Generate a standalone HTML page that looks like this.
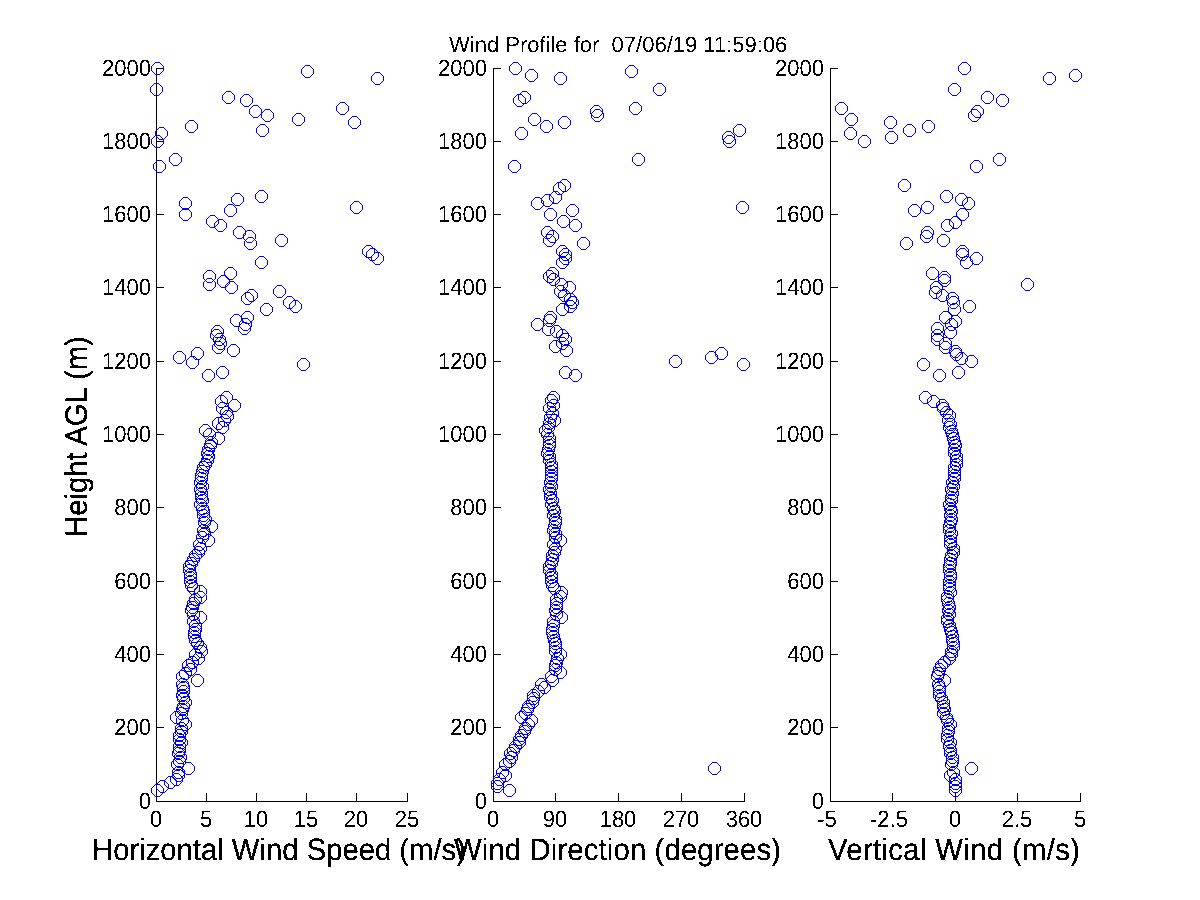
<!DOCTYPE html>
<html><head><meta charset="utf-8"><title>Wind Profile</title>
<style>
html,body{margin:0;padding:0;background:#fff;width:1200px;height:900px;overflow:hidden}
svg{display:block}
.t{font-family:'Liberation Sans', Arial, Helvetica, sans-serif;font-size:22px;fill:#000}
.l{font-family:'Liberation Sans', Arial, Helvetica, sans-serif;font-size:29.3px;fill:#000}
.ti{font-family:'Liberation Sans', Arial, Helvetica, sans-serif;font-size:22px;fill:#000;white-space:pre}
</style></head><body>
<svg width="1200" height="900" viewBox="0 0 1200 900" shape-rendering="crispEdges">
<rect width="1200" height="900" fill="#fff"/>
<path d="M156.5 68V801.5H408" fill="none" stroke="#000" stroke-width="1"/>
<path d="M157 727.5h7M157 654.5h7M157 581.5h7M157 507.5h7M157 434.5h7M157 361.5h7M157 287.5h7M157 214.5h7M157 141.5h7M157 68.5h7" stroke="#000" stroke-width="1"/>
<path d="M206.5 801V793M256.5 801V793M306.5 801V793M356.5 801V793M407.5 801V793" stroke="#000" stroke-width="1"/>
<path d="M493.5 68V801.5H745" fill="none" stroke="#000" stroke-width="1"/>
<path d="M494 727.5h7M494 654.5h7M494 581.5h7M494 507.5h7M494 434.5h7M494 361.5h7M494 287.5h7M494 214.5h7M494 141.5h7M494 68.5h7" stroke="#000" stroke-width="1"/>
<path d="M555.5 801V793M618.5 801V793M681.5 801V793M744.5 801V793" stroke="#000" stroke-width="1"/>
<path d="M830.5 68V801.5H1081" fill="none" stroke="#000" stroke-width="1"/>
<path d="M831 727.5h7M831 654.5h7M831 581.5h7M831 507.5h7M831 434.5h7M831 361.5h7M831 287.5h7M831 214.5h7M831 141.5h7M831 68.5h7" stroke="#000" stroke-width="1"/>
<path d="M892.5 801V793M955.5 801V793M1017.5 801V793M1080.5 801V793" stroke="#000" stroke-width="1"/>
<path d="M155.5 62.5h4l4 4v4l-4 4h-4l-4-4v-4zM305.5 65.5h4l4 4v4l-4 4h-4l-4-4v-4zM375.5 72.5h4l4 4v4l-4 4h-4l-4-4v-4zM154.5 83.5h4l4 4v4l-4 4h-4l-4-4v-4zM226.5 91.5h4l4 4v4l-4 4h-4l-4-4v-4zM244.5 94.5h4l4 4v4l-4 4h-4l-4-4v-4zM340.5 102.5h4l4 4v4l-4 4h-4l-4-4v-4zM253.5 105.5h4l4 4v4l-4 4h-4l-4-4v-4zM265.5 109.5h4l4 4v4l-4 4h-4l-4-4v-4zM296.5 113.5h4l4 4v4l-4 4h-4l-4-4v-4zM352.5 116.5h4l4 4v4l-4 4h-4l-4-4v-4zM189.5 120.5h4l4 4v4l-4 4h-4l-4-4v-4zM260.5 124.5h4l4 4v4l-4 4h-4l-4-4v-4zM159.5 127.5h4l4 4v4l-4 4h-4l-4-4v-4zM155.5 135.5h4l4 4v4l-4 4h-4l-4-4v-4zM173.5 153.5h4l4 4v4l-4 4h-4l-4-4v-4zM157.5 160.5h4l4 4v4l-4 4h-4l-4-4v-4zM259.5 190.5h4l4 4v4l-4 4h-4l-4-4v-4zM235.5 193.5h4l4 4v4l-4 4h-4l-4-4v-4zM183.5 197.5h4l4 4v4l-4 4h-4l-4-4v-4zM354.5 201.5h4l4 4v4l-4 4h-4l-4-4v-4zM228.5 204.5h4l4 4v4l-4 4h-4l-4-4v-4zM183.5 208.5h4l4 4v4l-4 4h-4l-4-4v-4zM210.5 215.5h4l4 4v4l-4 4h-4l-4-4v-4zM218.5 219.5h4l4 4v4l-4 4h-4l-4-4v-4zM237.5 226.5h4l4 4v4l-4 4h-4l-4-4v-4zM247.5 230.5h4l4 4v4l-4 4h-4l-4-4v-4zM279.5 234.5h4l4 4v4l-4 4h-4l-4-4v-4zM248.5 237.5h4l4 4v4l-4 4h-4l-4-4v-4zM366.5 245.5h4l4 4v4l-4 4h-4l-4-4v-4zM370.5 248.5h4l4 4v4l-4 4h-4l-4-4v-4zM375.5 252.5h4l4 4v4l-4 4h-4l-4-4v-4zM259.5 256.5h4l4 4v4l-4 4h-4l-4-4v-4zM228.5 267.5h4l4 4v4l-4 4h-4l-4-4v-4zM207.5 270.5h4l4 4v4l-4 4h-4l-4-4v-4zM221.5 275.5h4l4 4v4l-4 4h-4l-4-4v-4zM207.5 278.5h4l4 4v4l-4 4h-4l-4-4v-4zM229.5 281.5h4l4 4v4l-4 4h-4l-4-4v-4zM277.5 285.5h4l4 4v4l-4 4h-4l-4-4v-4zM249.5 289.5h4l4 4v4l-4 4h-4l-4-4v-4zM245.5 292.5h4l4 4v4l-4 4h-4l-4-4v-4zM287.5 296.5h4l4 4v4l-4 4h-4l-4-4v-4zM293.5 300.5h4l4 4v4l-4 4h-4l-4-4v-4zM264.5 303.5h4l4 4v4l-4 4h-4l-4-4v-4zM245.5 311.5h4l4 4v4l-4 4h-4l-4-4v-4zM234.5 314.5h4l4 4v4l-4 4h-4l-4-4v-4zM243.5 318.5h4l4 4v4l-4 4h-4l-4-4v-4zM242.5 322.5h4l4 4v4l-4 4h-4l-4-4v-4zM215.5 325.5h4l4 4v4l-4 4h-4l-4-4v-4zM214.5 329.5h4l4 4v4l-4 4h-4l-4-4v-4zM217.5 333.5h4l4 4v4l-4 4h-4l-4-4v-4zM218.5 337.5h4l4 4v4l-4 4h-4l-4-4v-4zM216.5 341.5h4l4 4v4l-4 4h-4l-4-4v-4zM231.5 344.5h4l4 4v4l-4 4h-4l-4-4v-4zM195.5 347.5h4l4 4v4l-4 4h-4l-4-4v-4zM177.5 351.5h4l4 4v4l-4 4h-4l-4-4v-4zM190.5 356.5h4l4 4v4l-4 4h-4l-4-4v-4zM301.5 358.5h4l4 4v4l-4 4h-4l-4-4v-4zM220.5 366.5h4l4 4v4l-4 4h-4l-4-4v-4zM206.5 369.5h4l4 4v4l-4 4h-4l-4-4v-4zM224.5 391.5h4l4 4v4l-4 4h-4l-4-4v-4zM219.5 395.5h4l4 4v4l-4 4h-4l-4-4v-4zM232.5 399.5h4l4 4v4l-4 4h-4l-4-4v-4zM220.5 402.5h4l4 4v4l-4 4h-4l-4-4v-4zM224.5 406.5h4l4 4v4l-4 4h-4l-4-4v-4zM225.5 410.5h4l4 4v4l-4 4h-4l-4-4v-4zM222.5 414.5h4l4 4v4l-4 4h-4l-4-4v-4zM216.5 417.5h4l4 4v4l-4 4h-4l-4-4v-4zM220.5 421.5h4l4 4v4l-4 4h-4l-4-4v-4zM203.5 424.5h4l4 4v4l-4 4h-4l-4-4v-4zM207.5 428.5h4l4 4v4l-4 4h-4l-4-4v-4zM216.5 432.5h4l4 4v4l-4 4h-4l-4-4v-4zM155.5 784.5h4l4 4v4l-4 4h-4l-4-4v-4zM160.5 780.5h4l4 4v4l-4 4h-4l-4-4v-4zM168.5 776.5h4l4 4v4l-4 4h-4l-4-4v-4zM174.5 773.5h4l4 4v4l-4 4h-4l-4-4v-4zM176.5 769.5h4l4 4v4l-4 4h-4l-4-4v-4zM198.5 641.5h4l4 4v4l-4 4h-4l-4-4v-4zM199.5 645.5h4l4 4v4l-4 4h-4l-4-4v-4zM193.5 648.5h4l4 4v4l-4 4h-4l-4-4v-4zM196.5 652.5h4l4 4v4l-4 4h-4l-4-4v-4zM190.5 656.5h4l4 4v4l-4 4h-4l-4-4v-4zM186.5 659.5h4l4 4v4l-4 4h-4l-4-4v-4zM188.5 663.5h4l4 4v4l-4 4h-4l-4-4v-4zM183.5 667.5h4l4 4v4l-4 4h-4l-4-4v-4zM180.5 670.5h4l4 4v4l-4 4h-4l-4-4v-4zM209.5 520.5h4l4 4v4l-4 4h-4l-4-4v-4zM206.5 534.5h4l4 4v4l-4 4h-4l-4-4v-4zM198.5 585.5h4l4 4v4l-4 4h-4l-4-4v-4zM198.5 591.5h4l4 4v4l-4 4h-4l-4-4v-4zM198.5 611.5h4l4 4v4l-4 4h-4l-4-4v-4zM195.5 674.5h4l4 4v4l-4 4h-4l-4-4v-4zM174.5 711.5h4l4 4v4l-4 4h-4l-4-4v-4zM186.5 762.5h4l4 4v4l-4 4h-4l-4-4v-4zM176.5 766.5h4l4 4v4l-4 4h-4l-4-4v-4zM175.5 758.5h4l4 4v4l-4 4h-4l-4-4v-4zM177.5 755.5h4l4 4v4l-4 4h-4l-4-4v-4zM178.5 751.5h4l4 4v4l-4 4h-4l-4-4v-4zM176.5 747.5h4l4 4v4l-4 4h-4l-4-4v-4zM177.5 744.5h4l4 4v4l-4 4h-4l-4-4v-4zM177.5 740.5h4l4 4v4l-4 4h-4l-4-4v-4zM179.5 736.5h4l4 4v4l-4 4h-4l-4-4v-4zM177.5 733.5h4l4 4v4l-4 4h-4l-4-4v-4zM177.5 729.5h4l4 4v4l-4 4h-4l-4-4v-4zM179.5 725.5h4l4 4v4l-4 4h-4l-4-4v-4zM179.5 722.5h4l4 4v4l-4 4h-4l-4-4v-4zM183.5 718.5h4l4 4v4l-4 4h-4l-4-4v-4zM180.5 714.5h4l4 4v4l-4 4h-4l-4-4v-4zM179.5 707.5h4l4 4v4l-4 4h-4l-4-4v-4zM180.5 703.5h4l4 4v4l-4 4h-4l-4-4v-4zM181.5 700.5h4l4 4v4l-4 4h-4l-4-4v-4zM183.5 696.5h4l4 4v4l-4 4h-4l-4-4v-4zM181.5 692.5h4l4 4v4l-4 4h-4l-4-4v-4zM180.5 689.5h4l4 4v4l-4 4h-4l-4-4v-4zM181.5 685.5h4l4 4v4l-4 4h-4l-4-4v-4zM181.5 681.5h4l4 4v4l-4 4h-4l-4-4v-4zM180.5 678.5h4l4 4v4l-4 4h-4l-4-4v-4zM195.5 637.5h4l4 4v4l-4 4h-4l-4-4v-4zM193.5 634.5h4l4 4v4l-4 4h-4l-4-4v-4zM192.5 630.5h4l4 4v4l-4 4h-4l-4-4v-4zM192.5 626.5h4l4 4v4l-4 4h-4l-4-4v-4zM193.5 623.5h4l4 4v4l-4 4h-4l-4-4v-4zM193.5 619.5h4l4 4v4l-4 4h-4l-4-4v-4zM191.5 615.5h4l4 4v4l-4 4h-4l-4-4v-4zM191.5 608.5h4l4 4v4l-4 4h-4l-4-4v-4zM189.5 604.5h4l4 4v4l-4 4h-4l-4-4v-4zM190.5 601.5h4l4 4v4l-4 4h-4l-4-4v-4zM191.5 597.5h4l4 4v4l-4 4h-4l-4-4v-4zM193.5 593.5h4l4 4v4l-4 4h-4l-4-4v-4zM191.5 582.5h4l4 4v4l-4 4h-4l-4-4v-4zM189.5 579.5h4l4 4v4l-4 4h-4l-4-4v-4zM188.5 575.5h4l4 4v4l-4 4h-4l-4-4v-4zM188.5 571.5h4l4 4v4l-4 4h-4l-4-4v-4zM188.5 568.5h4l4 4v4l-4 4h-4l-4-4v-4zM187.5 564.5h4l4 4v4l-4 4h-4l-4-4v-4zM187.5 560.5h4l4 4v4l-4 4h-4l-4-4v-4zM189.5 557.5h4l4 4v4l-4 4h-4l-4-4v-4zM191.5 553.5h4l4 4v4l-4 4h-4l-4-4v-4zM193.5 549.5h4l4 4v4l-4 4h-4l-4-4v-4zM196.5 546.5h4l4 4v4l-4 4h-4l-4-4v-4zM198.5 542.5h4l4 4v4l-4 4h-4l-4-4v-4zM197.5 538.5h4l4 4v4l-4 4h-4l-4-4v-4zM200.5 531.5h4l4 4v4l-4 4h-4l-4-4v-4zM202.5 527.5h4l4 4v4l-4 4h-4l-4-4v-4zM201.5 524.5h4l4 4v4l-4 4h-4l-4-4v-4zM202.5 516.5h4l4 4v4l-4 4h-4l-4-4v-4zM203.5 513.5h4l4 4v4l-4 4h-4l-4-4v-4zM201.5 509.5h4l4 4v4l-4 4h-4l-4-4v-4zM201.5 505.5h4l4 4v4l-4 4h-4l-4-4v-4zM200.5 502.5h4l4 4v4l-4 4h-4l-4-4v-4zM198.5 498.5h4l4 4v4l-4 4h-4l-4-4v-4zM200.5 494.5h4l4 4v4l-4 4h-4l-4-4v-4zM199.5 491.5h4l4 4v4l-4 4h-4l-4-4v-4zM199.5 487.5h4l4 4v4l-4 4h-4l-4-4v-4zM198.5 483.5h4l4 4v4l-4 4h-4l-4-4v-4zM200.5 480.5h4l4 4v4l-4 4h-4l-4-4v-4zM198.5 476.5h4l4 4v4l-4 4h-4l-4-4v-4zM199.5 472.5h4l4 4v4l-4 4h-4l-4-4v-4zM199.5 469.5h4l4 4v4l-4 4h-4l-4-4v-4zM200.5 465.5h4l4 4v4l-4 4h-4l-4-4v-4zM201.5 461.5h4l4 4v4l-4 4h-4l-4-4v-4zM203.5 458.5h4l4 4v4l-4 4h-4l-4-4v-4zM205.5 454.5h4l4 4v4l-4 4h-4l-4-4v-4zM206.5 450.5h4l4 4v4l-4 4h-4l-4-4v-4zM205.5 447.5h4l4 4v4l-4 4h-4l-4-4v-4zM206.5 443.5h4l4 4v4l-4 4h-4l-4-4v-4zM208.5 439.5h4l4 4v4l-4 4h-4l-4-4v-4zM209.5 436.5h4l4 4v4l-4 4h-4l-4-4v-4z" fill="none" stroke="#00f" stroke-width="1"/>
<path d="M513.5 62.5h4l4 4v4l-4 4h-4l-4-4v-4zM529.5 69.5h4l4 4v4l-4 4h-4l-4-4v-4zM558.5 72.5h4l4 4v4l-4 4h-4l-4-4v-4zM629.5 65.5h4l4 4v4l-4 4h-4l-4-4v-4zM657.5 83.5h4l4 4v4l-4 4h-4l-4-4v-4zM522.5 91.5h4l4 4v4l-4 4h-4l-4-4v-4zM517.5 94.5h4l4 4v4l-4 4h-4l-4-4v-4zM633.5 102.5h4l4 4v4l-4 4h-4l-4-4v-4zM594.5 105.5h4l4 4v4l-4 4h-4l-4-4v-4zM595.5 109.5h4l4 4v4l-4 4h-4l-4-4v-4zM532.5 113.5h4l4 4v4l-4 4h-4l-4-4v-4zM562.5 116.5h4l4 4v4l-4 4h-4l-4-4v-4zM544.5 120.5h4l4 4v4l-4 4h-4l-4-4v-4zM737.5 124.5h4l4 4v4l-4 4h-4l-4-4v-4zM519.5 127.5h4l4 4v4l-4 4h-4l-4-4v-4zM726.5 131.5h4l4 4v4l-4 4h-4l-4-4v-4zM727.5 135.5h4l4 4v4l-4 4h-4l-4-4v-4zM636.5 153.5h4l4 4v4l-4 4h-4l-4-4v-4zM512.5 160.5h4l4 4v4l-4 4h-4l-4-4v-4zM562.5 179.5h4l4 4v4l-4 4h-4l-4-4v-4zM557.5 182.5h4l4 4v4l-4 4h-4l-4-4v-4zM553.5 191.5h4l4 4v4l-4 4h-4l-4-4v-4zM545.5 194.5h4l4 4v4l-4 4h-4l-4-4v-4zM535.5 197.5h4l4 4v4l-4 4h-4l-4-4v-4zM740.5 201.5h4l4 4v4l-4 4h-4l-4-4v-4zM570.5 204.5h4l4 4v4l-4 4h-4l-4-4v-4zM548.5 208.5h4l4 4v4l-4 4h-4l-4-4v-4zM561.5 215.5h4l4 4v4l-4 4h-4l-4-4v-4zM573.5 219.5h4l4 4v4l-4 4h-4l-4-4v-4zM545.5 226.5h4l4 4v4l-4 4h-4l-4-4v-4zM550.5 230.5h4l4 4v4l-4 4h-4l-4-4v-4zM547.5 234.5h4l4 4v4l-4 4h-4l-4-4v-4zM581.5 237.5h4l4 4v4l-4 4h-4l-4-4v-4zM560.5 245.5h4l4 4v4l-4 4h-4l-4-4v-4zM563.5 248.5h4l4 4v4l-4 4h-4l-4-4v-4zM563.5 252.5h4l4 4v4l-4 4h-4l-4-4v-4zM560.5 256.5h4l4 4v4l-4 4h-4l-4-4v-4zM550.5 267.5h4l4 4v4l-4 4h-4l-4-4v-4zM547.5 270.5h4l4 4v4l-4 4h-4l-4-4v-4zM551.5 273.5h4l4 4v4l-4 4h-4l-4-4v-4zM559.5 278.5h4l4 4v4l-4 4h-4l-4-4v-4zM567.5 281.5h4l4 4v4l-4 4h-4l-4-4v-4zM558.5 285.5h4l4 4v4l-4 4h-4l-4-4v-4zM562.5 289.5h4l4 4v4l-4 4h-4l-4-4v-4zM568.5 293.5h4l4 4v4l-4 4h-4l-4-4v-4zM570.5 296.5h4l4 4v4l-4 4h-4l-4-4v-4zM568.5 300.5h4l4 4v4l-4 4h-4l-4-4v-4zM560.5 303.5h4l4 4v4l-4 4h-4l-4-4v-4zM548.5 311.5h4l4 4v4l-4 4h-4l-4-4v-4zM547.5 314.5h4l4 4v4l-4 4h-4l-4-4v-4zM535.5 318.5h4l4 4v4l-4 4h-4l-4-4v-4zM546.5 323.5h4l4 4v4l-4 4h-4l-4-4v-4zM554.5 325.5h4l4 4v4l-4 4h-4l-4-4v-4zM560.5 329.5h4l4 4v4l-4 4h-4l-4-4v-4zM563.5 333.5h4l4 4v4l-4 4h-4l-4-4v-4zM560.5 337.5h4l4 4v4l-4 4h-4l-4-4v-4zM553.5 340.5h4l4 4v4l-4 4h-4l-4-4v-4zM564.5 344.5h4l4 4v4l-4 4h-4l-4-4v-4zM719.5 347.5h4l4 4v4l-4 4h-4l-4-4v-4zM709.5 351.5h4l4 4v4l-4 4h-4l-4-4v-4zM673.5 355.5h4l4 4v4l-4 4h-4l-4-4v-4zM741.5 358.5h4l4 4v4l-4 4h-4l-4-4v-4zM563.5 366.5h4l4 4v4l-4 4h-4l-4-4v-4zM573.5 369.5h4l4 4v4l-4 4h-4l-4-4v-4zM551.5 391.5h4l4 4v4l-4 4h-4l-4-4v-4zM549.5 394.5h4l4 4v4l-4 4h-4l-4-4v-4zM551.5 399.5h4l4 4v4l-4 4h-4l-4-4v-4zM547.5 402.5h4l4 4v4l-4 4h-4l-4-4v-4zM550.5 407.5h4l4 4v4l-4 4h-4l-4-4v-4zM548.5 411.5h4l4 4v4l-4 4h-4l-4-4v-4zM552.5 414.5h4l4 4v4l-4 4h-4l-4-4v-4zM547.5 417.5h4l4 4v4l-4 4h-4l-4-4v-4zM546.5 421.5h4l4 4v4l-4 4h-4l-4-4v-4zM543.5 424.5h4l4 4v4l-4 4h-4l-4-4v-4zM545.5 428.5h4l4 4v4l-4 4h-4l-4-4v-4zM547.5 432.5h4l4 4v4l-4 4h-4l-4-4v-4zM507.5 784.5h4l4 4v4l-4 4h-4l-4-4v-4zM495.5 780.5h4l4 4v4l-4 4h-4l-4-4v-4zM495.5 777.5h4l4 4v4l-4 4h-4l-4-4v-4zM497.5 773.5h4l4 4v4l-4 4h-4l-4-4v-4zM503.5 769.5h4l4 4v4l-4 4h-4l-4-4v-4zM558.5 534.5h4l4 4v4l-4 4h-4l-4-4v-4zM559.5 586.5h4l4 4v4l-4 4h-4l-4-4v-4zM558.5 590.5h4l4 4v4l-4 4h-4l-4-4v-4zM559.5 611.5h4l4 4v4l-4 4h-4l-4-4v-4zM558.5 648.5h4l4 4v4l-4 4h-4l-4-4v-4zM558.5 666.5h4l4 4v4l-4 4h-4l-4-4v-4zM519.5 711.5h4l4 4v4l-4 4h-4l-4-4v-4zM712.5 762.5h4l4 4v4l-4 4h-4l-4-4v-4zM500.5 766.5h4l4 4v4l-4 4h-4l-4-4v-4zM503.5 758.5h4l4 4v4l-4 4h-4l-4-4v-4zM507.5 755.5h4l4 4v4l-4 4h-4l-4-4v-4zM509.5 751.5h4l4 4v4l-4 4h-4l-4-4v-4zM508.5 747.5h4l4 4v4l-4 4h-4l-4-4v-4zM511.5 744.5h4l4 4v4l-4 4h-4l-4-4v-4zM513.5 740.5h4l4 4v4l-4 4h-4l-4-4v-4zM517.5 736.5h4l4 4v4l-4 4h-4l-4-4v-4zM517.5 733.5h4l4 4v4l-4 4h-4l-4-4v-4zM519.5 729.5h4l4 4v4l-4 4h-4l-4-4v-4zM522.5 725.5h4l4 4v4l-4 4h-4l-4-4v-4zM523.5 722.5h4l4 4v4l-4 4h-4l-4-4v-4zM526.5 718.5h4l4 4v4l-4 4h-4l-4-4v-4zM529.5 714.5h4l4 4v4l-4 4h-4l-4-4v-4zM523.5 707.5h4l4 4v4l-4 4h-4l-4-4v-4zM525.5 703.5h4l4 4v4l-4 4h-4l-4-4v-4zM526.5 700.5h4l4 4v4l-4 4h-4l-4-4v-4zM530.5 696.5h4l4 4v4l-4 4h-4l-4-4v-4zM531.5 692.5h4l4 4v4l-4 4h-4l-4-4v-4zM531.5 689.5h4l4 4v4l-4 4h-4l-4-4v-4zM536.5 685.5h4l4 4v4l-4 4h-4l-4-4v-4zM542.5 681.5h4l4 4v4l-4 4h-4l-4-4v-4zM539.5 678.5h4l4 4v4l-4 4h-4l-4-4v-4zM550.5 674.5h4l4 4v4l-4 4h-4l-4-4v-4zM549.5 670.5h4l4 4v4l-4 4h-4l-4-4v-4zM553.5 663.5h4l4 4v4l-4 4h-4l-4-4v-4zM553.5 659.5h4l4 4v4l-4 4h-4l-4-4v-4zM554.5 656.5h4l4 4v4l-4 4h-4l-4-4v-4zM555.5 652.5h4l4 4v4l-4 4h-4l-4-4v-4zM553.5 645.5h4l4 4v4l-4 4h-4l-4-4v-4zM553.5 641.5h4l4 4v4l-4 4h-4l-4-4v-4zM553.5 637.5h4l4 4v4l-4 4h-4l-4-4v-4zM552.5 634.5h4l4 4v4l-4 4h-4l-4-4v-4zM551.5 630.5h4l4 4v4l-4 4h-4l-4-4v-4zM550.5 626.5h4l4 4v4l-4 4h-4l-4-4v-4zM550.5 623.5h4l4 4v4l-4 4h-4l-4-4v-4zM551.5 619.5h4l4 4v4l-4 4h-4l-4-4v-4zM551.5 615.5h4l4 4v4l-4 4h-4l-4-4v-4zM554.5 608.5h4l4 4v4l-4 4h-4l-4-4v-4zM553.5 604.5h4l4 4v4l-4 4h-4l-4-4v-4zM554.5 601.5h4l4 4v4l-4 4h-4l-4-4v-4zM554.5 597.5h4l4 4v4l-4 4h-4l-4-4v-4zM554.5 593.5h4l4 4v4l-4 4h-4l-4-4v-4zM552.5 582.5h4l4 4v4l-4 4h-4l-4-4v-4zM550.5 579.5h4l4 4v4l-4 4h-4l-4-4v-4zM549.5 575.5h4l4 4v4l-4 4h-4l-4-4v-4zM549.5 571.5h4l4 4v4l-4 4h-4l-4-4v-4zM549.5 568.5h4l4 4v4l-4 4h-4l-4-4v-4zM547.5 564.5h4l4 4v4l-4 4h-4l-4-4v-4zM547.5 560.5h4l4 4v4l-4 4h-4l-4-4v-4zM549.5 557.5h4l4 4v4l-4 4h-4l-4-4v-4zM550.5 553.5h4l4 4v4l-4 4h-4l-4-4v-4zM550.5 549.5h4l4 4v4l-4 4h-4l-4-4v-4zM552.5 546.5h4l4 4v4l-4 4h-4l-4-4v-4zM553.5 542.5h4l4 4v4l-4 4h-4l-4-4v-4zM551.5 538.5h4l4 4v4l-4 4h-4l-4-4v-4zM553.5 531.5h4l4 4v4l-4 4h-4l-4-4v-4zM553.5 527.5h4l4 4v4l-4 4h-4l-4-4v-4zM551.5 524.5h4l4 4v4l-4 4h-4l-4-4v-4zM552.5 520.5h4l4 4v4l-4 4h-4l-4-4v-4zM553.5 516.5h4l4 4v4l-4 4h-4l-4-4v-4zM553.5 513.5h4l4 4v4l-4 4h-4l-4-4v-4zM551.5 509.5h4l4 4v4l-4 4h-4l-4-4v-4zM552.5 505.5h4l4 4v4l-4 4h-4l-4-4v-4zM551.5 502.5h4l4 4v4l-4 4h-4l-4-4v-4zM549.5 498.5h4l4 4v4l-4 4h-4l-4-4v-4zM550.5 494.5h4l4 4v4l-4 4h-4l-4-4v-4zM548.5 491.5h4l4 4v4l-4 4h-4l-4-4v-4zM548.5 487.5h4l4 4v4l-4 4h-4l-4-4v-4zM547.5 483.5h4l4 4v4l-4 4h-4l-4-4v-4zM549.5 480.5h4l4 4v4l-4 4h-4l-4-4v-4zM548.5 476.5h4l4 4v4l-4 4h-4l-4-4v-4zM549.5 472.5h4l4 4v4l-4 4h-4l-4-4v-4zM549.5 469.5h4l4 4v4l-4 4h-4l-4-4v-4zM549.5 465.5h4l4 4v4l-4 4h-4l-4-4v-4zM549.5 461.5h4l4 4v4l-4 4h-4l-4-4v-4zM549.5 458.5h4l4 4v4l-4 4h-4l-4-4v-4zM547.5 454.5h4l4 4v4l-4 4h-4l-4-4v-4zM547.5 450.5h4l4 4v4l-4 4h-4l-4-4v-4zM545.5 447.5h4l4 4v4l-4 4h-4l-4-4v-4zM546.5 443.5h4l4 4v4l-4 4h-4l-4-4v-4zM547.5 439.5h4l4 4v4l-4 4h-4l-4-4v-4zM547.5 436.5h4l4 4v4l-4 4h-4l-4-4v-4z" fill="none" stroke="#00f" stroke-width="1"/>
<path d="M962.5 62.5h4l4 4v4l-4 4h-4l-4-4v-4zM1073.5 69.5h4l4 4v4l-4 4h-4l-4-4v-4zM1047.5 72.5h4l4 4v4l-4 4h-4l-4-4v-4zM952.5 83.5h4l4 4v4l-4 4h-4l-4-4v-4zM985.5 91.5h4l4 4v4l-4 4h-4l-4-4v-4zM1000.5 94.5h4l4 4v4l-4 4h-4l-4-4v-4zM839.5 102.5h4l4 4v4l-4 4h-4l-4-4v-4zM975.5 105.5h4l4 4v4l-4 4h-4l-4-4v-4zM972.5 109.5h4l4 4v4l-4 4h-4l-4-4v-4zM849.5 113.5h4l4 4v4l-4 4h-4l-4-4v-4zM888.5 116.5h4l4 4v4l-4 4h-4l-4-4v-4zM926.5 120.5h4l4 4v4l-4 4h-4l-4-4v-4zM907.5 124.5h4l4 4v4l-4 4h-4l-4-4v-4zM848.5 127.5h4l4 4v4l-4 4h-4l-4-4v-4zM889.5 131.5h4l4 4v4l-4 4h-4l-4-4v-4zM862.5 135.5h4l4 4v4l-4 4h-4l-4-4v-4zM997.5 153.5h4l4 4v4l-4 4h-4l-4-4v-4zM974.5 160.5h4l4 4v4l-4 4h-4l-4-4v-4zM902.5 179.5h4l4 4v4l-4 4h-4l-4-4v-4zM944.5 190.5h4l4 4v4l-4 4h-4l-4-4v-4zM959.5 193.5h4l4 4v4l-4 4h-4l-4-4v-4zM966.5 197.5h4l4 4v4l-4 4h-4l-4-4v-4zM925.5 201.5h4l4 4v4l-4 4h-4l-4-4v-4zM912.5 204.5h4l4 4v4l-4 4h-4l-4-4v-4zM960.5 208.5h4l4 4v4l-4 4h-4l-4-4v-4zM953.5 216.5h4l4 4v4l-4 4h-4l-4-4v-4zM945.5 219.5h4l4 4v4l-4 4h-4l-4-4v-4zM925.5 226.5h4l4 4v4l-4 4h-4l-4-4v-4zM924.5 230.5h4l4 4v4l-4 4h-4l-4-4v-4zM941.5 234.5h4l4 4v4l-4 4h-4l-4-4v-4zM904.5 237.5h4l4 4v4l-4 4h-4l-4-4v-4zM960.5 245.5h4l4 4v4l-4 4h-4l-4-4v-4zM960.5 248.5h4l4 4v4l-4 4h-4l-4-4v-4zM974.5 252.5h4l4 4v4l-4 4h-4l-4-4v-4zM964.5 256.5h4l4 4v4l-4 4h-4l-4-4v-4zM930.5 267.5h4l4 4v4l-4 4h-4l-4-4v-4zM942.5 271.5h4l4 4v4l-4 4h-4l-4-4v-4zM942.5 274.5h4l4 4v4l-4 4h-4l-4-4v-4zM1025.5 278.5h4l4 4v4l-4 4h-4l-4-4v-4zM934.5 281.5h4l4 4v4l-4 4h-4l-4-4v-4zM933.5 286.5h4l4 4v4l-4 4h-4l-4-4v-4zM940.5 289.5h4l4 4v4l-4 4h-4l-4-4v-4zM950.5 292.5h4l4 4v4l-4 4h-4l-4-4v-4zM951.5 296.5h4l4 4v4l-4 4h-4l-4-4v-4zM967.5 300.5h4l4 4v4l-4 4h-4l-4-4v-4zM952.5 303.5h4l4 4v4l-4 4h-4l-4-4v-4zM943.5 311.5h4l4 4v4l-4 4h-4l-4-4v-4zM953.5 315.5h4l4 4v4l-4 4h-4l-4-4v-4zM949.5 318.5h4l4 4v4l-4 4h-4l-4-4v-4zM935.5 322.5h4l4 4v4l-4 4h-4l-4-4v-4zM948.5 326.5h4l4 4v4l-4 4h-4l-4-4v-4zM935.5 329.5h4l4 4v4l-4 4h-4l-4-4v-4zM935.5 333.5h4l4 4v4l-4 4h-4l-4-4v-4zM943.5 337.5h4l4 4v4l-4 4h-4l-4-4v-4zM943.5 341.5h4l4 4v4l-4 4h-4l-4-4v-4zM953.5 345.5h4l4 4v4l-4 4h-4l-4-4v-4zM954.5 348.5h4l4 4v4l-4 4h-4l-4-4v-4zM959.5 352.5h4l4 4v4l-4 4h-4l-4-4v-4zM969.5 355.5h4l4 4v4l-4 4h-4l-4-4v-4zM921.5 358.5h4l4 4v4l-4 4h-4l-4-4v-4zM956.5 366.5h4l4 4v4l-4 4h-4l-4-4v-4zM937.5 369.5h4l4 4v4l-4 4h-4l-4-4v-4zM923.5 391.5h4l4 4v4l-4 4h-4l-4-4v-4zM931.5 395.5h4l4 4v4l-4 4h-4l-4-4v-4zM940.5 399.5h4l4 4v4l-4 4h-4l-4-4v-4zM941.5 402.5h4l4 4v4l-4 4h-4l-4-4v-4zM944.5 406.5h4l4 4v4l-4 4h-4l-4-4v-4zM947.5 409.5h4l4 4v4l-4 4h-4l-4-4v-4zM946.5 414.5h4l4 4v4l-4 4h-4l-4-4v-4zM953.5 784.5h4l4 4v4l-4 4h-4l-4-4v-4zM953.5 780.5h4l4 4v4l-4 4h-4l-4-4v-4zM953.5 777.5h4l4 4v4l-4 4h-4l-4-4v-4zM953.5 773.5h4l4 4v4l-4 4h-4l-4-4v-4zM948.5 769.5h4l4 4v4l-4 4h-4l-4-4v-4zM969.5 762.5h4l4 4v4l-4 4h-4l-4-4v-4zM942.5 674.5h4l4 4v4l-4 4h-4l-4-4v-4zM951.5 766.5h4l4 4v4l-4 4h-4l-4-4v-4zM949.5 758.5h4l4 4v4l-4 4h-4l-4-4v-4zM950.5 755.5h4l4 4v4l-4 4h-4l-4-4v-4zM950.5 751.5h4l4 4v4l-4 4h-4l-4-4v-4zM948.5 747.5h4l4 4v4l-4 4h-4l-4-4v-4zM948.5 744.5h4l4 4v4l-4 4h-4l-4-4v-4zM947.5 740.5h4l4 4v4l-4 4h-4l-4-4v-4zM948.5 736.5h4l4 4v4l-4 4h-4l-4-4v-4zM945.5 733.5h4l4 4v4l-4 4h-4l-4-4v-4zM945.5 729.5h4l4 4v4l-4 4h-4l-4-4v-4zM946.5 725.5h4l4 4v4l-4 4h-4l-4-4v-4zM946.5 722.5h4l4 4v4l-4 4h-4l-4-4v-4zM948.5 718.5h4l4 4v4l-4 4h-4l-4-4v-4zM945.5 714.5h4l4 4v4l-4 4h-4l-4-4v-4zM944.5 711.5h4l4 4v4l-4 4h-4l-4-4v-4zM941.5 707.5h4l4 4v4l-4 4h-4l-4-4v-4zM942.5 703.5h4l4 4v4l-4 4h-4l-4-4v-4zM941.5 700.5h4l4 4v4l-4 4h-4l-4-4v-4zM941.5 696.5h4l4 4v4l-4 4h-4l-4-4v-4zM939.5 692.5h4l4 4v4l-4 4h-4l-4-4v-4zM937.5 689.5h4l4 4v4l-4 4h-4l-4-4v-4zM937.5 685.5h4l4 4v4l-4 4h-4l-4-4v-4zM937.5 681.5h4l4 4v4l-4 4h-4l-4-4v-4zM936.5 678.5h4l4 4v4l-4 4h-4l-4-4v-4zM935.5 670.5h4l4 4v4l-4 4h-4l-4-4v-4zM936.5 667.5h4l4 4v4l-4 4h-4l-4-4v-4zM937.5 663.5h4l4 4v4l-4 4h-4l-4-4v-4zM939.5 659.5h4l4 4v4l-4 4h-4l-4-4v-4zM942.5 656.5h4l4 4v4l-4 4h-4l-4-4v-4zM947.5 652.5h4l4 4v4l-4 4h-4l-4-4v-4zM949.5 648.5h4l4 4v4l-4 4h-4l-4-4v-4zM949.5 645.5h4l4 4v4l-4 4h-4l-4-4v-4zM951.5 641.5h4l4 4v4l-4 4h-4l-4-4v-4zM951.5 637.5h4l4 4v4l-4 4h-4l-4-4v-4zM950.5 634.5h4l4 4v4l-4 4h-4l-4-4v-4zM950.5 630.5h4l4 4v4l-4 4h-4l-4-4v-4zM949.5 626.5h4l4 4v4l-4 4h-4l-4-4v-4zM948.5 623.5h4l4 4v4l-4 4h-4l-4-4v-4zM947.5 619.5h4l4 4v4l-4 4h-4l-4-4v-4zM945.5 615.5h4l4 4v4l-4 4h-4l-4-4v-4zM945.5 612.5h4l4 4v4l-4 4h-4l-4-4v-4zM947.5 608.5h4l4 4v4l-4 4h-4l-4-4v-4zM946.5 604.5h4l4 4v4l-4 4h-4l-4-4v-4zM947.5 601.5h4l4 4v4l-4 4h-4l-4-4v-4zM946.5 597.5h4l4 4v4l-4 4h-4l-4-4v-4zM945.5 593.5h4l4 4v4l-4 4h-4l-4-4v-4zM945.5 590.5h4l4 4v4l-4 4h-4l-4-4v-4zM948.5 586.5h4l4 4v4l-4 4h-4l-4-4v-4zM947.5 582.5h4l4 4v4l-4 4h-4l-4-4v-4zM947.5 579.5h4l4 4v4l-4 4h-4l-4-4v-4zM947.5 575.5h4l4 4v4l-4 4h-4l-4-4v-4zM948.5 571.5h4l4 4v4l-4 4h-4l-4-4v-4zM948.5 568.5h4l4 4v4l-4 4h-4l-4-4v-4zM947.5 564.5h4l4 4v4l-4 4h-4l-4-4v-4zM947.5 560.5h4l4 4v4l-4 4h-4l-4-4v-4zM948.5 557.5h4l4 4v4l-4 4h-4l-4-4v-4zM948.5 553.5h4l4 4v4l-4 4h-4l-4-4v-4zM949.5 549.5h4l4 4v4l-4 4h-4l-4-4v-4zM951.5 546.5h4l4 4v4l-4 4h-4l-4-4v-4zM951.5 542.5h4l4 4v4l-4 4h-4l-4-4v-4zM948.5 538.5h4l4 4v4l-4 4h-4l-4-4v-4zM948.5 535.5h4l4 4v4l-4 4h-4l-4-4v-4zM948.5 531.5h4l4 4v4l-4 4h-4l-4-4v-4zM949.5 527.5h4l4 4v4l-4 4h-4l-4-4v-4zM947.5 524.5h4l4 4v4l-4 4h-4l-4-4v-4zM947.5 520.5h4l4 4v4l-4 4h-4l-4-4v-4zM948.5 516.5h4l4 4v4l-4 4h-4l-4-4v-4zM949.5 513.5h4l4 4v4l-4 4h-4l-4-4v-4zM948.5 509.5h4l4 4v4l-4 4h-4l-4-4v-4zM949.5 505.5h4l4 4v4l-4 4h-4l-4-4v-4zM948.5 502.5h4l4 4v4l-4 4h-4l-4-4v-4zM947.5 498.5h4l4 4v4l-4 4h-4l-4-4v-4zM949.5 494.5h4l4 4v4l-4 4h-4l-4-4v-4zM949.5 491.5h4l4 4v4l-4 4h-4l-4-4v-4zM950.5 487.5h4l4 4v4l-4 4h-4l-4-4v-4zM949.5 483.5h4l4 4v4l-4 4h-4l-4-4v-4zM951.5 480.5h4l4 4v4l-4 4h-4l-4-4v-4zM950.5 476.5h4l4 4v4l-4 4h-4l-4-4v-4zM952.5 472.5h4l4 4v4l-4 4h-4l-4-4v-4zM952.5 469.5h4l4 4v4l-4 4h-4l-4-4v-4zM952.5 465.5h4l4 4v4l-4 4h-4l-4-4v-4zM952.5 461.5h4l4 4v4l-4 4h-4l-4-4v-4zM954.5 458.5h4l4 4v4l-4 4h-4l-4-4v-4zM954.5 454.5h4l4 4v4l-4 4h-4l-4-4v-4zM954.5 450.5h4l4 4v4l-4 4h-4l-4-4v-4zM952.5 447.5h4l4 4v4l-4 4h-4l-4-4v-4zM952.5 443.5h4l4 4v4l-4 4h-4l-4-4v-4zM953.5 439.5h4l4 4v4l-4 4h-4l-4-4v-4zM952.5 436.5h4l4 4v4l-4 4h-4l-4-4v-4zM951.5 432.5h4l4 4v4l-4 4h-4l-4-4v-4zM950.5 428.5h4l4 4v4l-4 4h-4l-4-4v-4zM949.5 425.5h4l4 4v4l-4 4h-4l-4-4v-4zM947.5 421.5h4l4 4v4l-4 4h-4l-4-4v-4zM948.5 418.5h4l4 4v4l-4 4h-4l-4-4v-4z" fill="none" stroke="#00f" stroke-width="1"/>
<filter id="al" x="0" y="0" width="100%" height="100%" filterUnits="userSpaceOnUse"><feComponentTransfer><feFuncA type="discrete" tableValues="0 1"/></feComponentTransfer></filter>
<filter id="al2" x="0" y="0" width="100%" height="100%" filterUnits="userSpaceOnUse"><feComponentTransfer><feFuncA type="discrete" tableValues="0 1 1"/></feComponentTransfer></filter>
<g shape-rendering="auto" text-rendering="geometricPrecision" filter="url(#al)">
<text transform="translate(151 809) scale(1 1.067)" text-anchor="end" class="t">0</text>
<text transform="translate(151 735) scale(1 1.067)" text-anchor="end" class="t">200</text>
<text transform="translate(151 662) scale(1 1.067)" text-anchor="end" class="t">400</text>
<text transform="translate(151 589) scale(1 1.067)" text-anchor="end" class="t">600</text>
<text transform="translate(151 515) scale(1 1.067)" text-anchor="end" class="t">800</text>
<text transform="translate(151 442) scale(1 1.067)" text-anchor="end" class="t">1000</text>
<text transform="translate(151 369) scale(1 1.067)" text-anchor="end" class="t">1200</text>
<text transform="translate(151 295) scale(1 1.067)" text-anchor="end" class="t">1400</text>
<text transform="translate(151 222) scale(1 1.067)" text-anchor="end" class="t">1600</text>
<text transform="translate(151 149) scale(1 1.067)" text-anchor="end" class="t">1800</text>
<text transform="translate(151 76) scale(1 1.067)" text-anchor="end" class="t">2000</text>
<text transform="translate(156 827) scale(1 1.067)" text-anchor="middle" class="t">0</text>
<text transform="translate(206 827) scale(1 1.067)" text-anchor="middle" class="t">5</text>
<text transform="translate(256 827) scale(1 1.067)" text-anchor="middle" class="t">10</text>
<text transform="translate(306 827) scale(1 1.067)" text-anchor="middle" class="t">15</text>
<text transform="translate(356 827) scale(1 1.067)" text-anchor="middle" class="t">20</text>
<text transform="translate(407 827) scale(1 1.067)" text-anchor="middle" class="t">25</text>
<text transform="translate(487 809) scale(1 1.067)" text-anchor="end" class="t">0</text>
<text transform="translate(487 735) scale(1 1.067)" text-anchor="end" class="t">200</text>
<text transform="translate(487 662) scale(1 1.067)" text-anchor="end" class="t">400</text>
<text transform="translate(487 589) scale(1 1.067)" text-anchor="end" class="t">600</text>
<text transform="translate(487 515) scale(1 1.067)" text-anchor="end" class="t">800</text>
<text transform="translate(487 442) scale(1 1.067)" text-anchor="end" class="t">1000</text>
<text transform="translate(487 369) scale(1 1.067)" text-anchor="end" class="t">1200</text>
<text transform="translate(487 295) scale(1 1.067)" text-anchor="end" class="t">1400</text>
<text transform="translate(487 222) scale(1 1.067)" text-anchor="end" class="t">1600</text>
<text transform="translate(487 149) scale(1 1.067)" text-anchor="end" class="t">1800</text>
<text transform="translate(487 76) scale(1 1.067)" text-anchor="end" class="t">2000</text>
<text transform="translate(493 827) scale(1 1.067)" text-anchor="middle" class="t">0</text>
<text transform="translate(555 827) scale(1 1.067)" text-anchor="middle" class="t">90</text>
<text transform="translate(618 827) scale(1 1.067)" text-anchor="middle" class="t">180</text>
<text transform="translate(681 827) scale(1 1.067)" text-anchor="middle" class="t">270</text>
<text transform="translate(744 827) scale(1 1.067)" text-anchor="middle" class="t">360</text>
<text transform="translate(824 809) scale(1 1.067)" text-anchor="end" class="t">0</text>
<text transform="translate(824 735) scale(1 1.067)" text-anchor="end" class="t">200</text>
<text transform="translate(824 662) scale(1 1.067)" text-anchor="end" class="t">400</text>
<text transform="translate(824 589) scale(1 1.067)" text-anchor="end" class="t">600</text>
<text transform="translate(824 515) scale(1 1.067)" text-anchor="end" class="t">800</text>
<text transform="translate(824 442) scale(1 1.067)" text-anchor="end" class="t">1000</text>
<text transform="translate(824 369) scale(1 1.067)" text-anchor="end" class="t">1200</text>
<text transform="translate(824 295) scale(1 1.067)" text-anchor="end" class="t">1400</text>
<text transform="translate(824 222) scale(1 1.067)" text-anchor="end" class="t">1600</text>
<text transform="translate(824 149) scale(1 1.067)" text-anchor="end" class="t">1800</text>
<text transform="translate(824 76) scale(1 1.067)" text-anchor="end" class="t">2000</text>
<text transform="translate(827 827) scale(1 1.067)" text-anchor="middle" class="t">-5</text>
<text transform="translate(889 827) scale(1 1.067)" text-anchor="middle" class="t">-2.5</text>
<text transform="translate(955 827) scale(1 1.067)" text-anchor="middle" class="t">0</text>
<text transform="translate(1017 827) scale(1 1.067)" text-anchor="middle" class="t">2.5</text>
<text transform="translate(1080 827) scale(1 1.067)" text-anchor="middle" class="t">5</text>
<text x="449" y="52" class="ti">Wind Profile for  07/06/19 11:59:06</text>
</g>
<g shape-rendering="auto" text-rendering="geometricPrecision" filter="url(#al2)">
<text transform="translate(92 860) scale(1 1.05)" class="l" textLength="374" lengthAdjust="spacing">Horizontal Wind Speed (m/s)</text>
<text transform="translate(454 860) scale(1 1.05)" class="l" textLength="327" lengthAdjust="spacing">Wind Direction (degrees)</text>
<text transform="translate(828 860) scale(1 1.05)" class="l" textLength="252" lengthAdjust="spacing">Vertical Wind (m/s)</text>
<text transform="translate(87 537) rotate(-90) scale(1 1.05)" class="l">Height AGL (m)</text>
</g>
</svg>
</body></html>
